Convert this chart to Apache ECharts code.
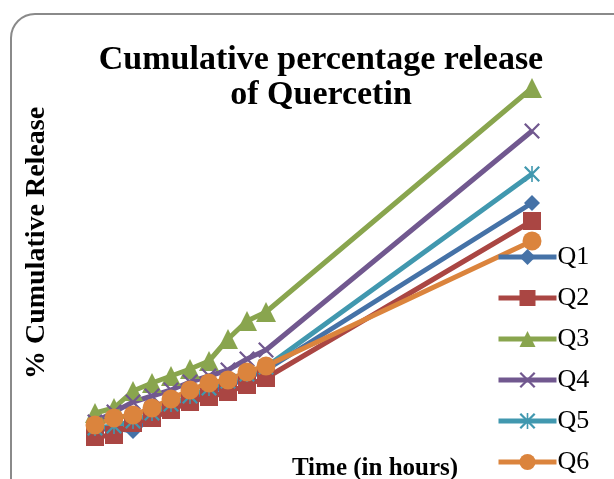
<!DOCTYPE html>
<html>
<head>
<meta charset="utf-8">
<script src="https://cdn.jsdelivr.net/npm/echarts@6/dist/echarts.min.js"></script>
<style>html,body{margin:0;padding:0;background:#fff;}#c{width:614px;height:479px;}</style>
</head>
<body>
<div id="c"></div>
<script>
var hours = [1, 2, 3, 4, 5, 6, 7, 8, 9, 10, 24];
var seriesNames = ['Q1', 'Q2', 'Q3', 'Q4', 'Q5', 'Q6'];
var q1 = [5.0, 5.5, 4.75, 8.0, 10.0, 12.5, 14.5, 16.0, 18.0, 20.0, 61.75];
var q2 = [3.25, 3.75, 6.75, 8.0, 10.0, 12.0, 13.25, 14.5, 16.25, 18.0, 57.25];
var q3 = [9.25, 10.5, 14.75, 16.75, 18.5, 20.25, 22.25, 27.75, 32.25, 34.5, 90.5];
var q4 = [7.0, 9.5, 12.0, 13.5, 15.0, 17.0, 18.5, 20.0, 22.75, 25.0, 79.75];
var q5 = [5.5, 6.0, 7.25, 9.25, 11.5, 13.5, 15.5, 17.25, 19.0, 20.75, 69.0];
var q6 = [6.25, 8.0, 8.75, 10.5, 12.75, 15.0, 16.75, 17.5, 19.5, 21.0, 52.25];

var values = [q1, q2, q3, q4, q5, q6];
var colors = ['#4572A7', '#AA4643', '#89A54E', '#71588F', '#4198AF', '#DB843D'];
var xPath = 'path://M0,1L1,0L10,9L9,10Z M9,0L10,1L1,10L0,9Z';
var starPath = 'path://M0,1L1,0L10,9L9,10Z M9,0L10,1L1,10L0,9Z M4.5,0L5.5,0L5.5,10L4.5,10Z';
var symbols = ['diamond', 'rect', 'triangle', xPath, starPath, 'circle'];
var sizes = [16, 18, 20, 16, 16, 19];

var serif = '"Liberation Serif", "DejaVu Serif", serif';
var chart = echarts.init(document.getElementById('c'), null, {renderer: 'canvas'});
var series = seriesNames.map(function (n, i) {
  return {
    name: n,
    type: 'line',
    data: hours.map(function (h, j) { return [h, values[i][j]]; }),
    symbol: symbols[i],
    symbolSize: sizes[i],
    showAllSymbol: true,
    lineStyle: {color: colors[i], width: 5},
    itemStyle: {color: colors[i]},
    emphasis: {disabled: true},
    animation: false
  };
});
chart.setOption({
  animation: false,
  color: colors,
  title: {
    text: 'Cumulative percentage release\nof Quercetin',
    left: 316, top: 38, textAlign: 'center',
    textStyle: {fontFamily: serif, fontWeight: 'bold', fontSize: 34, lineHeight: 35, color: '#000'}
  },
  graphic: [{
    type: 'rect', silent: true, z: -1,
    shape: {x: 11, y: 14, width: 650, height: 520, r: 24},
    style: {fill: 'none', stroke: '#8a8a8a', lineWidth: 2}
  }],
  legend: {
    orient: 'vertical', left: 496, top: 244, bottom: -40, padding: 0,
    itemWidth: 58, itemHeight: 20, itemGap: 15,
    lineStyle: {width: 5},
    textStyle: {fontFamily: serif, fontSize: 26, lineHeight: 26, color: '#000', padding: [0, 0, 0, -4]},
    data: seriesNames
  },
  grid: {left: 76, right: 82, top: 50, bottom: 29, containLabel: false, outerBoundsMode: 'none'},
  xAxis: {
    type: 'value', min: 0, max: 24,
    name: 'Time (in hours)', nameLocation: 'middle', nameGap: 6,
    nameTextStyle: {fontFamily: serif, fontWeight: 'bold', fontSize: 25, color: '#000', padding: [0, 0, 0, 142]},
    axisLine: {show: false}, axisTick: {show: false}, axisLabel: {show: false}, splitLine: {show: false}
  },
  yAxis: {
    type: 'value', min: 0, max: 100,
    name: '% Cumulative Release', nameLocation: 'middle', nameGap: 25,
    nameTextStyle: {fontFamily: serif, fontWeight: 'bold', fontSize: 28, color: '#000', padding: [0, 0, 0, 14]},
    axisLine: {show: false}, axisTick: {show: false}, axisLabel: {show: false}, splitLine: {show: false}
  },
  series: series
});
</script>
</body>
</html>
